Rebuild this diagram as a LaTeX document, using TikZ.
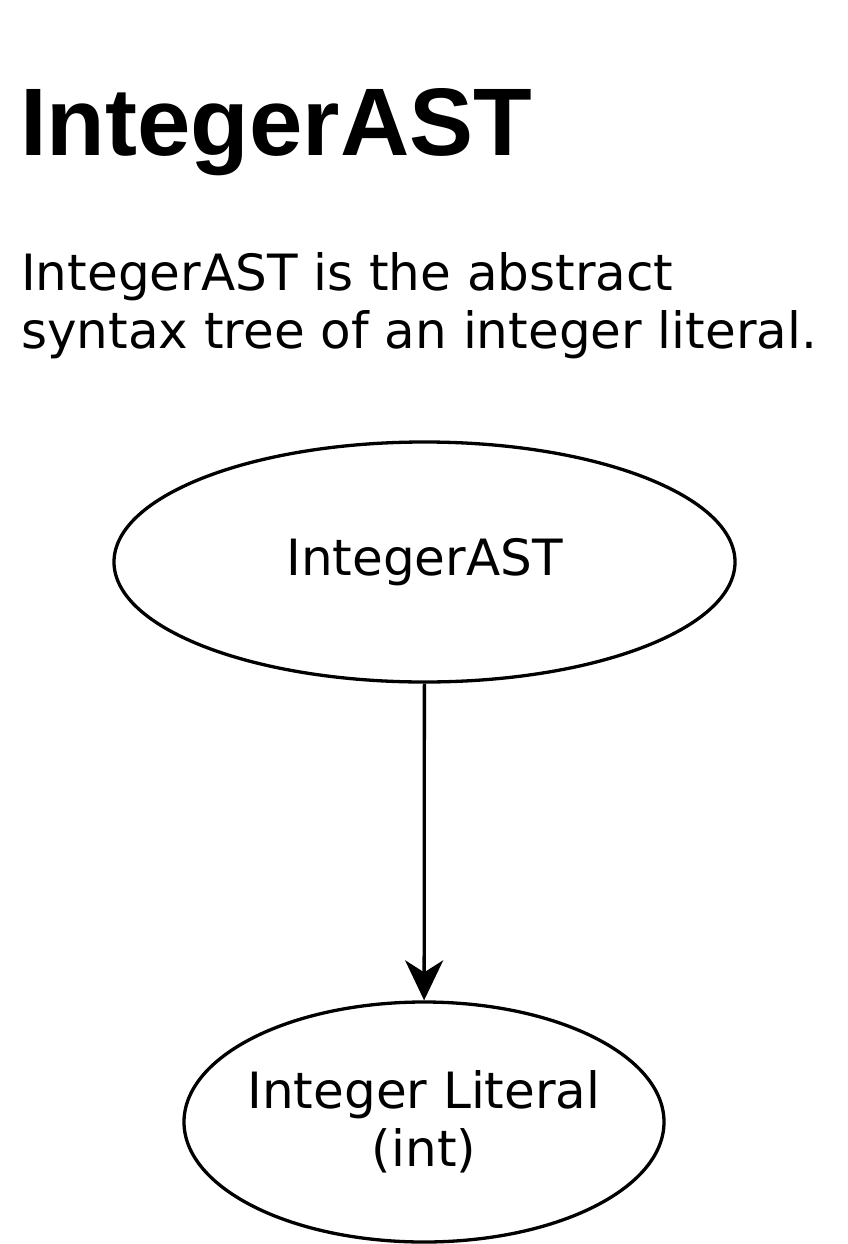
\documentclass[tikz,border=0pt]{standalone}
\usepackage{fontspec}
\setmainfont{DejaVu Sans}
\newfontfamily\titlefont{Liberation Sans}
\usetikzlibrary{shapes.geometric,arrows.meta}
\begin{document}
\begin{tikzpicture}[x=1pt,y=-1pt,
  oval/.style={ellipse,draw,line width=3.3pt,inner sep=0pt},
  ovaltext/.style={inner sep=0pt,align=center,font=\fontsize{50}{58}\selectfont},
  conn/.style={line width=3.3pt,-{Stealth[length=40pt,width=38pt,inset=12pt]}}]
\useasboundingbox (0,0) rectangle (848,1244);
\node[anchor=base west,inner sep=0pt,font=\titlefont\bfseries\fontsize{96}{110}\selectfont] (title) at (20,155) {IntegerAST};
\node[anchor=north west,inner sep=0pt,align=left,font=\fontsize{50}{58}\selectfont] (desc) at (21,252) {IntegerAST is the abstract\\syntax tree of an integer literal.};
\node[oval,minimum width=621pt,minimum height=240pt] (ast) at (424.5,562) {};
\node[ovaltext] (asttext) at (ast.center) {IntegerAST};
\node[oval,minimum width=480pt,minimum height=240pt] (lit) at (424,1122) {};
\node[ovaltext] (littext) at (lit.center) {Integer Literal\\(int)};
\draw[conn] (ast) -- (lit);
\end{tikzpicture}
\end{document}
